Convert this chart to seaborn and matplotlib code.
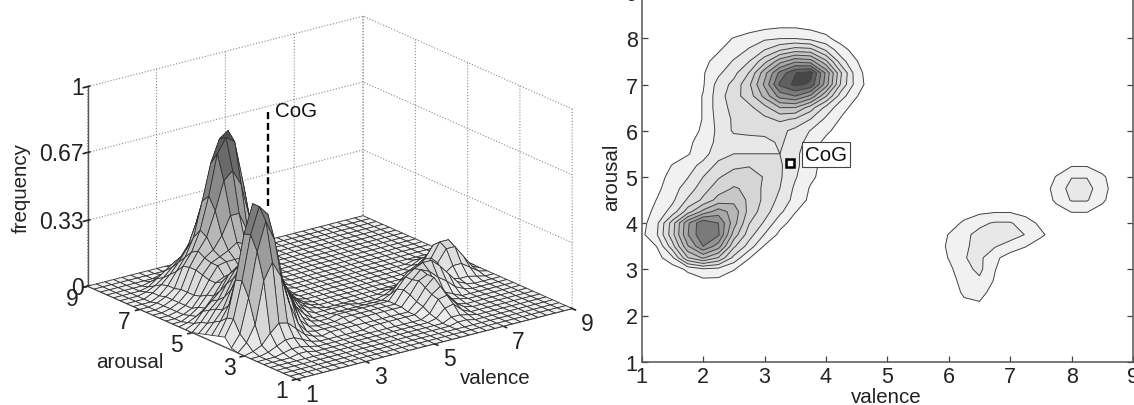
import numpy as np
import matplotlib
matplotlib.use('Agg')
import matplotlib.pyplot as plt
import seaborn as sns

# eixos do mapa (valence e arousal de 1 a 9, passo 0.25)
valence = [1 + 0.25 * i for i in range(33)]
arousal = [1 + 0.25 * i for i in range(33)]

# frequency x 100; cada linha e um valor de arousal (1 -> 9)
# colunas valence 1 a 5
freq_left = [
    [0, 0, 0, 0, 0, 0, 0, 0, 0, 0, 0, 0, 0, 0, 0, 0, 0],
    [0, 0, 0, 0, 0, 0, 0, 0, 0, 0, 0, 0, 0, 0, 0, 0, 0],
    [0, 0, 0, 0, 0, 0, 0, 0, 0, 0, 0, 0, 0, 0, 0, 0, 0],
    [0, 0, 0, 0, 0, 0, 0, 0, 0, 0, 0, 0, 0, 0, 0, 0, 0],
    [0, 0, 0, 0, 0, 0, 0, 0, 0, 0, 0, 0, 0, 0, 0, 0, 0],
    [0, 0, 0, 0, 1, 1, 0, 0, 0, 0, 0, 0, 0, 0, 0, 0, 0],
    [0, 0, 0, 1, 2, 2, 1, 0, 0, 0, 0, 0, 0, 0, 0, 0, 0],
    [0, 0, 1, 3, 5, 5, 3, 1, 0, 0, 0, 0, 0, 0, 1, 1, 1],
    [0, 1, 3, 8, 12, 11, 7, 3, 1, 0, 1, 1, 1, 1, 1, 1, 1],
    [0, 4, 12, 33, 41, 33, 18, 7, 2, 1, 1, 1, 1, 1, 2, 2, 2],
    [1, 7, 24, 46, 60, 50, 28, 17, 6, 2, 1, 1, 1, 2, 2, 2, 2],
    [5, 13, 31, 53, 66, 61, 37, 23, 13, 5, 2, 1, 1, 2, 2, 2, 2],
    [4, 12, 30, 52, 66, 60, 43, 27, 19, 9, 4, 1, 1, 1, 1, 1, 1],
    [3, 9, 16, 30, 42, 50, 44, 31, 23, 15, 7, 3, 1, 1, 1, 1, 1],
    [2, 7, 12, 21, 28, 36, 38, 32, 25, 18, 11, 5, 2, 1, 0, 0, 0],
    [1, 5, 11, 16, 24, 30, 34, 32, 25, 20, 12, 6, 3, 1, 0, 0, 0],
    [0, 4, 9, 13, 20, 26, 30, 31, 26, 21, 14, 8, 4, 1, 0, 0, 0],
    [0, 2, 7, 11, 15, 22, 25, 26, 24, 21, 15, 9, 4, 1, 0, 0, 0],
    [0, 1, 3, 6, 11, 17, 20, 20, 20, 20, 15, 9, 4, 2, 0, 0, 0],
    [0, 0, 2, 5, 10, 15, 17, 17, 18, 21, 17, 10, 5, 2, 0, 0, 0],
    [0, 0, 1, 3, 8, 15, 21, 22, 22, 22, 18, 13, 8, 4, 1, 0, 0],
    [0, 0, 1, 3, 7, 16, 21, 23, 25, 28, 26, 20, 12, 6, 2, 0, 0],
    [0, 0, 1, 3, 7, 17, 22, 25, 31, 40, 40, 30, 18, 9, 4, 1, 0],
    [0, 0, 1, 3, 7, 17, 24, 30, 42, 56, 60, 52, 34, 16, 7, 2, 0],
    [0, 0, 1, 3, 6, 16, 22, 32, 48, 68, 75, 72, 50, 25, 10, 3, 0],
    [0, 0, 0, 2, 6, 12, 18, 27, 44, 62, 73, 76, 52, 27, 9, 3, 0],
    [0, 0, 0, 2, 5, 9, 14, 20, 31, 44, 52, 50, 35, 16, 7, 2, 0],
    [0, 0, 0, 1, 3, 6, 10, 14, 20, 26, 30, 29, 19, 9, 4, 1, 0],
    [0, 0, 0, 0, 1, 4, 7, 10, 12, 13, 13, 11, 8, 4, 2, 0, 0],
    [0, 0, 0, 0, 0, 1, 2, 3, 5, 6, 6, 5, 4, 2, 1, 0, 0],
    [0, 0, 0, 0, 0, 0, 0, 1, 2, 3, 3, 3, 2, 1, 0, 0, 0],
    [0, 0, 0, 0, 0, 0, 0, 0, 0, 1, 1, 1, 0, 0, 0, 0, 0],
    [0, 0, 0, 0, 0, 0, 0, 0, 0, 0, 0, 0, 0, 0, 0, 0, 0],
]

# colunas valence 5.25 a 9
freq_right = [
    [0, 0, 0, 0, 0, 0, 0, 0, 0, 0, 0, 0, 0, 0, 0, 0],
    [0, 0, 0, 0, 0, 0, 0, 0, 0, 0, 0, 0, 0, 0, 0, 0],
    [0, 0, 0, 0, 0, 0, 0, 0, 0, 0, 0, 0, 0, 0, 0, 0],
    [0, 0, 0, 0, 1, 1, 0, 0, 0, 0, 0, 0, 0, 0, 0, 0],
    [0, 0, 0, 0, 2, 2, 1, 0, 0, 0, 0, 0, 0, 0, 0, 0],
    [0, 0, 0, 1, 5, 6, 2, 0, 0, 0, 0, 0, 0, 0, 0, 0],
    [0, 0, 0, 2, 8, 9, 4, 1, 0, 0, 0, 0, 0, 0, 0, 0],
    [1, 1, 1, 4, 9, 12, 6, 1, 0, 0, 0, 0, 0, 0, 0, 0],
    [1, 1, 1, 5, 11, 15, 7, 2, 1, 0, 0, 0, 0, 0, 0, 0],
    [2, 2, 2, 7, 13, 15, 8, 4, 2, 0, 0, 0, 0, 0, 0, 0],
    [2, 2, 2, 8, 12, 16, 14, 10, 7, 3, 1, 0, 0, 0, 0, 0],
    [2, 2, 2, 7, 12, 15, 17, 17, 13, 8, 3, 1, 0, 0, 0, 0],
    [1, 1, 1, 3, 8, 12, 14, 14, 10, 5, 3, 2, 2, 1, 0, 0],
    [0, 0, 0, 1, 3, 5, 6, 6, 4, 3, 4, 7, 7, 4, 1, 0],
    [0, 0, 0, 0, 1, 1, 2, 2, 1, 2, 8, 14, 14, 8, 2, 0],
    [0, 0, 0, 0, 0, 0, 0, 1, 1, 3, 9, 16, 16, 9, 3, 0],
    [0, 0, 0, 0, 0, 0, 0, 0, 0, 2, 7, 13, 13, 8, 2, 0],
    [0, 0, 0, 0, 0, 0, 0, 0, 0, 1, 3, 6, 6, 3, 1, 0],
    [0, 0, 0, 0, 0, 0, 0, 0, 0, 0, 1, 3, 3, 1, 0, 0],
    [0, 0, 0, 0, 0, 0, 0, 0, 0, 0, 0, 1, 1, 0, 0, 0],
    [0, 0, 0, 0, 0, 0, 0, 0, 0, 0, 0, 0, 0, 0, 0, 0],
    [0, 0, 0, 0, 0, 0, 0, 0, 0, 0, 0, 0, 0, 0, 0, 0],
    [0, 0, 0, 0, 0, 0, 0, 0, 0, 0, 0, 0, 0, 0, 0, 0],
    [0, 0, 0, 0, 0, 0, 0, 0, 0, 0, 0, 0, 0, 0, 0, 0],
    [0, 0, 0, 0, 0, 0, 0, 0, 0, 0, 0, 0, 0, 0, 0, 0],
    [0, 0, 0, 0, 0, 0, 0, 0, 0, 0, 0, 0, 0, 0, 0, 0],
    [0, 0, 0, 0, 0, 0, 0, 0, 0, 0, 0, 0, 0, 0, 0, 0],
    [0, 0, 0, 0, 0, 0, 0, 0, 0, 0, 0, 0, 0, 0, 0, 0],
    [0, 0, 0, 0, 0, 0, 0, 0, 0, 0, 0, 0, 0, 0, 0, 0],
    [0, 0, 0, 0, 0, 0, 0, 0, 0, 0, 0, 0, 0, 0, 0, 0],
    [0, 0, 0, 0, 0, 0, 0, 0, 0, 0, 0, 0, 0, 0, 0, 0],
    [0, 0, 0, 0, 0, 0, 0, 0, 0, 0, 0, 0, 0, 0, 0, 0],
    [0, 0, 0, 0, 0, 0, 0, 0, 0, 0, 0, 0, 0, 0, 0, 0],
]

contour_levels = [6.67, 13.33, 20, 26.67, 33.33, 40, 46.67, 53.33, 60, 66.67, 73.33, 80]
cog_valence = 3.42
cog_arousal = 5.3
cog_top = 0.985
cog_visible_from = 0.51
ticks_3d = [1, 3, 5, 7, 9]
ticks_freq = [0, 0.33, 0.67, 1]
freq_labels = ['0', '0.33', '0.67', '1']
ticks_map = [1, 2, 3, 4, 5, 6, 7, 8, 9]

W, H = 1134, 406

sns.set_theme(style='white')
plt.rcParams['font.family'] = ['Liberation Sans', 'DejaVu Sans']

Z = np.hstack([np.array(freq_left, float), np.array(freq_right, float)])
V, A = np.meshgrid(valence, arousal)

fig = plt.figure(figsize=(W / 100, H / 100), dpi=100)

# superficie 3D (eixo quadrado maior que a figura para nao cortar a superficie)
ax3 = fig.add_axes([-9 / W, -131.5 / H, 660 / W, 660 / H], projection='3d')
ax3.set_proj_type('ortho')
ax3.view_init(elev=19.7, azim=-127.2)
ax3.set_box_aspect((1, 1, 0.613), zoom=1.32 * 392 / 660)
ax3.computed_zorder = False
ax3.patch.set_alpha(0)

surf_cmap = sns.blend_palette(['#efefef', '#c4c4c4', '#8f8f8f', '#4a4a4a'], as_cmap=True)
ax3.plot_surface(V, A, Z / 100, rstride=1, cstride=1, cmap=surf_cmap, vmin=0, vmax=0.77,
                 edgecolor='#2e2e2e', linewidth=0.55, shade=False, antialiased=True, zorder=1)
ax3.plot([cog_valence, cog_valence], [cog_arousal, cog_arousal], [cog_visible_from, cog_top],
         color='black', linestyle=(0, (3, 1.6)), linewidth=1.7, zorder=5)
ax3.text(cog_valence + 0.12, cog_arousal - 0.12, cog_top - 0.02, 'CoG', fontsize=14.8, color='#111', zorder=6)

ax3.set_xlim(1, 9, view_margin=0)
ax3.set_ylim(1, 9, view_margin=0)
ax3.set_zlim(0, 1, view_margin=0)
ax3.set_xticks(ticks_3d)
ax3.set_yticks(ticks_3d)
ax3.set_xticklabels([])
ax3.set_yticklabels([])
ax3.set_zticks(ticks_freq)
ax3.set_zticklabels([])
for axis in (ax3.xaxis, ax3.yaxis, ax3.zaxis):
    axis.set_pane_color((1, 1, 1, 1))
    axis.pane.set_edgecolor('none')
    axis._axinfo['grid'].update(color='#8a8a8a', linewidth=0.8, linestyle=':')
    axis.line.set_color('#555555')
    axis.line.set_linewidth(1.0)

# rotulos dos ticks, colados na borda como no original
for t in ticks_3d:
    ax3.text(t, 1 - 0.57, -0.0425, str(t), fontsize=16.5, color='#222', ha='center', va='center', zorder=6)
    ax3.text(1 - 0.45, t, -0.04, str(t), fontsize=16.5, color='#222', ha='center', va='center', zorder=6)
for z, lab in zip(ticks_freq, freq_labels):
    ax3.text(1 - 0.12, 9, z, lab, fontsize=16.5, color='#222', ha='right', va='center', zorder=6)

fig.text(21 / W, 1 - 188 / H, 'frequency', rotation=90, fontsize=14.8, color='#222', ha='center', va='center')
fig.text(130 / W, 1 - 363 / H, 'arousal', fontsize=14.8, color='#222', ha='center', va='center')
fig.text(495 / W, 1 - 379 / H, 'valence', fontsize=14.8, color='#222', ha='center', va='center')

# mapa de contorno
ax2 = fig.add_axes([641.7 / W, 43.3 / H, 491.3 / W, 369.6 / H])
band_colors = sns.blend_palette(['#f1f1f1', '#d2d2d2', '#9c9c9c', '#474747'], n_colors=len(contour_levels) - 1)
ax2.contourf(V, A, Z, levels=contour_levels, colors=band_colors)
ax2.contour(V, A, Z, levels=contour_levels, colors='#444444', linewidths=0.7)
ax2.plot(cog_valence, cog_arousal, marker='s', markersize=5.5, markerfacecolor='white',
         markeredgecolor='black', markeredgewidth=1.8, linestyle='none')
ax2.text(3.66, 5.49, 'CoG', fontsize=14.8, color='#111', ha='left', va='center',
         bbox=dict(facecolor='white', edgecolor='#444', linewidth=0.8, boxstyle='square,pad=0.15'))
ax2.set_xlim(1, 9)
ax2.set_ylim(1, 9)
ax2.set_xticks(ticks_map)
ax2.set_yticks(ticks_map)
ax2.tick_params(direction='in', length=4, width=0.9, color='#444', labelsize=15.5, labelcolor='#222',
                top=True, right=True, bottom=True, left=True, pad=3)
for sp in ax2.spines.values():
    sp.set_color('#555555')
    sp.set_linewidth(1.1)
fig.text(886 / W, 1 - 398 / H, 'valence', fontsize=14.8, color='#222', ha='center', va='center')
fig.text(612 / W, 1 - 177 / H, 'arousal', rotation=90, fontsize=14.8, color='#222', ha='center', va='center')

fig.savefig('out.png', dpi=100, facecolor='white')
